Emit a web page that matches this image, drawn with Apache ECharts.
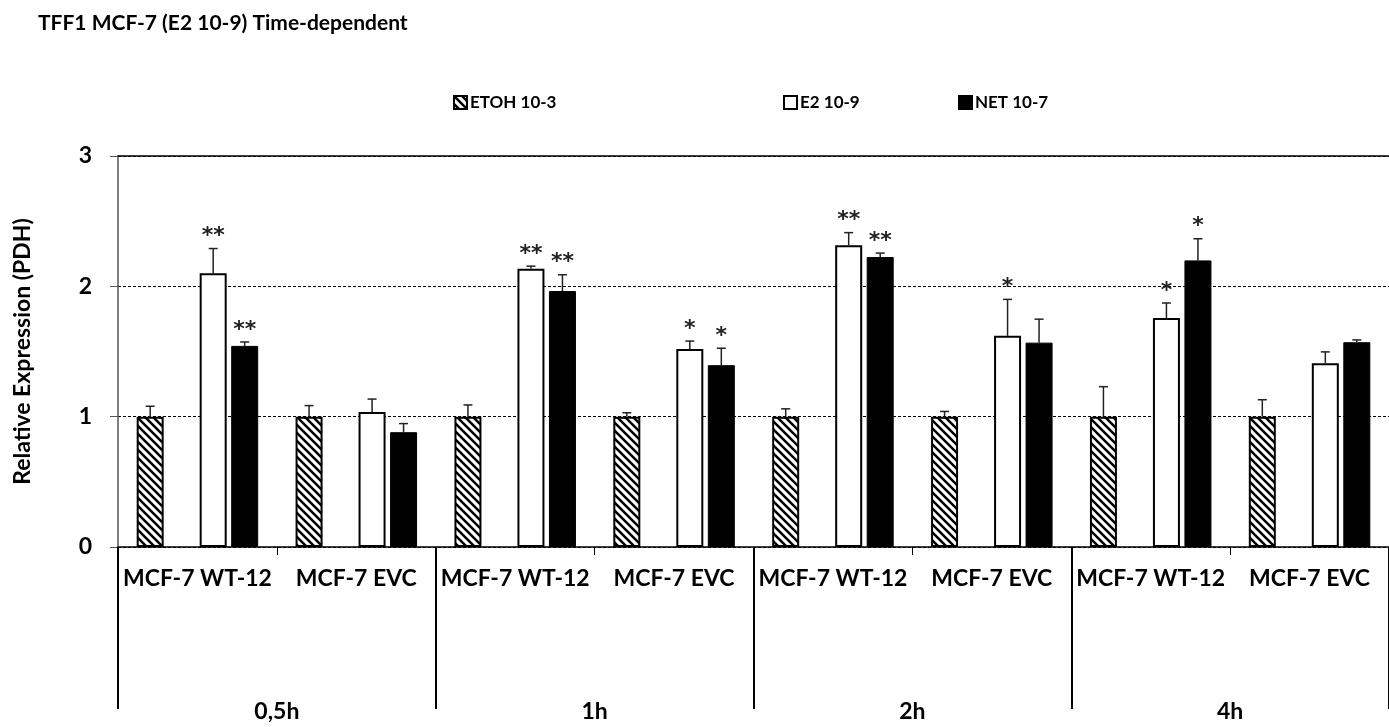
<!DOCTYPE html>
<html>
<head>
<meta charset="utf-8">
<script src="https://cdn.jsdelivr.net/npm/echarts@6/dist/echarts.min.js"></script>
<style>
  html, body { margin: 0; padding: 0; background: #fff; }
  #chart { width: 1389px; height: 727px; }
</style>
</head>
<body>
<div id="chart"></div>
<script>
// Cell lines per time point, and the time points themselves
const categories = ['MCF-7 WT-12', 'MCF-7 EVC', 'MCF-7 WT-12', 'MCF-7 EVC',
                    'MCF-7 WT-12', 'MCF-7 EVC', 'MCF-7 WT-12', 'MCF-7 EVC'];
const timepoints = ['0,5h', '1h', '2h', '4h'];
const yTicks = [0, 1, 2, 3];

// Relative expression (normalised to PDH) and upper error
const etohValues = [1, 1, 1, 1, 1, 1, 1, 1];
const etohErr    = [0.08, 0.085, 0.09, 0.03, 0.06, 0.04, 0.23, 0.13];
const e2Values   = [2.10, 1.035, 2.135, 1.52, 2.315, 1.62, 1.757, 1.41];
const e2Err      = [0.19, 0.10, 0.02, 0.06, 0.097, 0.28, 0.115, 0.087];
const netValues  = [1.543, 0.881, 1.964, 1.395, 2.225, 1.568, 2.199, 1.571];
const netErr     = [0.03, 0.066, 0.125, 0.13, 0.03, 0.18, 0.166, 0.018];

// Significance marks
const e2Sig  = ['**', '', '**', '*', '**', '*', '*', ''];
const netSig = ['**', '', '**', '*', '**', '', '*', ''];

const FONT = 'Lato, "Open Sans", sans-serif';
const BAR_W = 27;
const BAR_GAP = 4.5;
// centre offsets of the four bar slots in a category (slot 1 left empty)
const slotOffset = i => (i - 1.5) * (BAR_W + BAR_GAP);

// diagonal hatch fill
function hatch() {
  const c = document.createElement('canvas');
  c.width = 8; c.height = 8;
  const g = c.getContext('2d');
  g.fillStyle = '#fff';
  g.fillRect(0, 0, 8, 8);
  g.strokeStyle = '#000';
  g.lineWidth = 2.5;
  for (let k = -1; k <= 1; k++) {
    g.beginPath();
    g.moveTo(k * 8 - 2, -2);
    g.lineTo(k * 8 + 10, 10);
    g.stroke();
  }
  return { image: c, repeat: 'repeat' };
}
const hatchFill = hatch();

function errorSeries(values, errs, sigs, slot) {
  return {
    type: 'custom',
    xAxisIndex: 0,
    z: 5,
    silent: true,
    data: values.map((v, i) => [i, v, errs[i], sigs ? sigs[i] : '']),
    renderItem: (params, api) => {
      const i = api.value(0);
      const base = api.coord([i, api.value(1)]);
      const top = api.coord([i, api.value(1) + api.value(2)]);
      const x = base[0] + slotOffset(slot);
      const children = [
        { type: 'line', shape: { x1: x, y1: base[1], x2: x, y2: top[1] },
          style: { stroke: '#222', lineWidth: 1.5 } },
        { type: 'line', shape: { x1: x - 4.5, y1: top[1], x2: x + 4.5, y2: top[1] },
          style: { stroke: '#222', lineWidth: 1.5 } }
      ];
      const s = api.value(3);
      if (s) {
        children.push({
          type: 'text',
          style: { text: s, x: x, y: top[1] - 12, align: 'center', verticalAlign: 'middle',
                   font: 'bold 22px "DejaVu Sans", sans-serif', fill: '#222' }
        });
      }
      return { type: 'group', children };
    }
  };
}

const chart = echarts.init(document.getElementById('chart'));
chart.setOption({
  animation: false,
  backgroundColor: '#fff',
  title: {
    text: 'TFF1 MCF-7 (E2 10-9) Time-dependent',
    left: 33, top: 8,
    textStyle: { fontFamily: FONT, fontWeight: 'bold', fontSize: 21, color: '#000' }
  },
  legend: [
    { data: ['ETOH 10-3'], left: 448, top: 89 },
    { data: ['E2 10-9'], left: 778, top: 89 },
    { data: ['NET 10-7'], left: 953, top: 89 }
  ].map(l => Object.assign(l, {
    itemWidth: 13, itemHeight: 13, icon: 'rect', itemGap: 4,
    textStyle: { fontFamily: FONT, fontWeight: 'bold', fontSize: 17, color: '#000', padding: [0, 0, 0, -2] }
  })),
  grid: { left: 118, right: -13, top: 156, bottom: 180, containLabel: false },
  xAxis: [
    {
      type: 'category', data: categories, position: 'bottom',
      axisLine: { lineStyle: { color: '#000', width: 1.5 } },
      axisTick: { show: true, length: 8, interval: 0, lineStyle: { color: '#000', width: 1 } },
      axisLabel: { interval: 0, margin: 20, fontFamily: FONT, fontWeight: 'bold', fontSize: 23, color: '#000' }
    },
    {
      type: 'category', data: timepoints, position: 'bottom',
      axisLine: { show: false },
      axisTick: { show: true, length: 162, lineStyle: { color: '#000', width: 2 } },
      axisLabel: { margin: 153, fontFamily: FONT, fontWeight: 'bold', fontSize: 23, color: '#000' }
    },
    {
      type: 'category', data: categories, position: 'top',
      axisLine: { lineStyle: { color: '#000', width: 1.5 } },
      axisTick: { show: false }, axisLabel: { show: false }
    }
  ],
  yAxis: {
    type: 'value', min: yTicks[0], max: yTicks[yTicks.length - 1], interval: 1,
    name: 'Relative Expression (PDH)', nameLocation: 'middle', nameGap: 84, nameRotate: 90,
    nameTextStyle: { fontFamily: FONT, fontWeight: 'bold', fontSize: 23, color: '#000' },
    axisLine: { show: true, lineStyle: { color: '#555', width: 1.5 } },
    axisTick: { show: true, length: 8, lineStyle: { color: '#555', width: 1 } },
    axisLabel: { margin: 26, fontFamily: FONT, fontWeight: 'bold', fontSize: 23, color: '#000' },
    splitLine: { show: true, lineStyle: { color: '#000', width: 1, type: [3, 2] } }
  },
  series: [
    {
      name: 'ETOH 10-3', type: 'bar', xAxisIndex: 0, data: etohValues,
      barWidth: BAR_W, barGap: (BAR_GAP / BAR_W * 100) + '%',
      itemStyle: { color: hatchFill, borderColor: '#000', borderWidth: 2 }
    },
    {
      name: 'slot', type: 'bar', xAxisIndex: 0, data: etohValues.map(() => null),
      barWidth: BAR_W
    },
    {
      name: 'E2 10-9', type: 'bar', xAxisIndex: 0, data: e2Values,
      barWidth: BAR_W,
      itemStyle: { color: '#fff', borderColor: '#000', borderWidth: 2 }
    },
    {
      name: 'NET 10-7', type: 'bar', xAxisIndex: 0, data: netValues,
      barWidth: BAR_W,
      itemStyle: { color: '#000', borderColor: '#000', borderWidth: 1 }
    },
    errorSeries(etohValues, etohErr, null, 0),
    errorSeries(e2Values, e2Err, e2Sig, 2),
    errorSeries(netValues, netErr, netSig, 3)
  ]
});
</script>
</body>
</html>
